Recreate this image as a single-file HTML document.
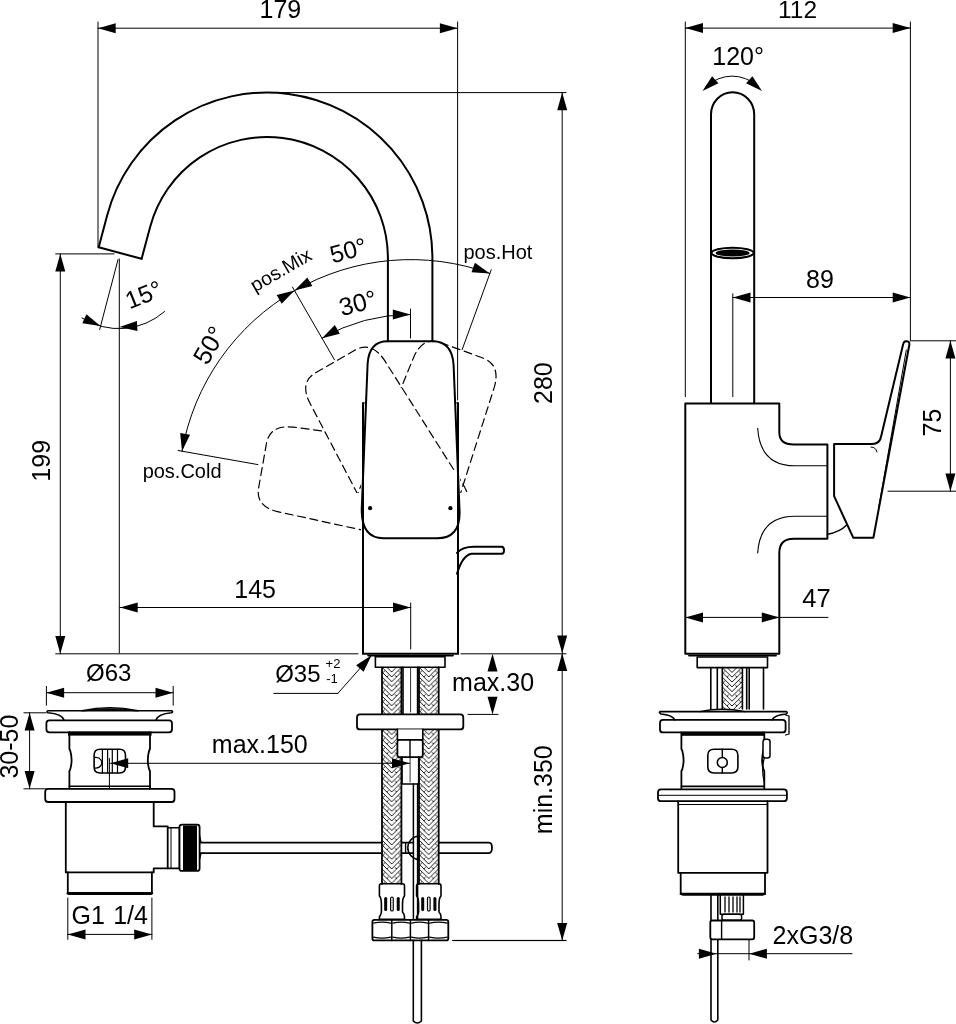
<!DOCTYPE html>
<html><head><meta charset="utf-8"><style>
html,body{margin:0;padding:0;background:#fff;}
svg{display:block;will-change:transform;}
text{font-family:"Liberation Sans",sans-serif;fill:#000;stroke:none;}
</style></head><body>
<svg width="956" height="1024" viewBox="0 0 956 1024">
<defs>
<pattern id="braid" patternUnits="userSpaceOnUse" x="0" y="0" width="19.4" height="9.6">
<path d="M0,-4.8 L9.7,4.8 L19.4,-4.8 M0,0 L9.7,9.6 L19.4,0 M0,4.8 L9.7,14.4 L19.4,4.8 M3.2,3.2 L0.8,5.6 M16.2,3.2 L18.6,5.6 M6.4,8 L4.2,10.2 M13,8 L15.2,10.2" stroke="#000" stroke-width="0.9" fill="none"/>
</pattern>
</defs>
<rect width="956" height="1024" fill="#fff"/>
<g stroke="#000" fill="none" stroke-linecap="round" stroke-linejoin="round">
<line x1="98.00" y1="22.00" x2="98.00" y2="247.00" stroke-width="1.0" />
<line x1="457.60" y1="22.00" x2="457.60" y2="400.00" stroke-width="1.0" />
<line x1="98.00" y1="28.20" x2="457.60" y2="28.20" stroke-width="1.0" />
<polygon points="98.00,28.20 115.70,23.20 115.70,33.20" fill="#000" stroke="none"/>
<polygon points="457.60,28.20 439.90,33.20 439.90,23.20" fill="#000" stroke="none"/>
<line x1="272.00" y1="92.60" x2="566.00" y2="92.60" stroke-width="1.0" />
<path d="M98.7,247.3 L107.2,215.2 A165.4,165.4 0 0 1 432.4,258 L432.4,341.3" stroke-width="2.0" />
<path d="M141.6,258.8 L150.2,226.7 A120.9,120.9 0 0 1 387.9,258 L387.9,341.3" stroke-width="2.0" />
<path d="M98.7,247.3 L141.6,258.8" stroke-width="2.0" />
<line x1="55.70" y1="253.90" x2="114.00" y2="253.90" stroke-width="1.0" />
<line x1="60.30" y1="253.90" x2="60.30" y2="653.80" stroke-width="1.0" />
<polygon points="60.30,253.90 65.30,271.60 55.30,271.60" fill="#000" stroke="none"/>
<polygon points="60.30,653.80 55.30,636.10 65.30,636.10" fill="#000" stroke="none"/>
<line x1="119.30" y1="259.00" x2="119.30" y2="653.00" stroke-width="1.0" />
<line x1="118.00" y1="259.60" x2="99.70" y2="329.50" stroke-width="1.0" />
<path d="M82,318 A69,69 0 0 0 164.5,311.6" stroke-width="1.0" />
<polygon points="100.50,326.00 82.31,323.30 86.41,314.18" fill="#000" stroke="none"/>
<polygon points="119.50,327.00 136.93,321.12 137.43,331.11" fill="#000" stroke="none"/>
<line x1="55.70" y1="653.80" x2="358.00" y2="653.80" stroke-width="1.0" />
<line x1="461.00" y1="653.80" x2="566.00" y2="653.80" stroke-width="1.0" />
<line x1="562.20" y1="92.60" x2="562.20" y2="940.60" stroke-width="1.0" />
<polygon points="562.20,92.60 567.20,110.30 557.20,110.30" fill="#000" stroke="none"/>
<polygon points="562.20,653.20 557.20,635.50 567.20,635.50" fill="#000" stroke="none"/>
<polygon points="562.20,653.20 567.20,670.90 557.20,670.90" fill="#000" stroke="none"/>
<polygon points="562.20,940.60 557.20,922.90 567.20,922.90" fill="#000" stroke="none"/>
<line x1="453.00" y1="940.60" x2="566.00" y2="940.60" stroke-width="1.0" />
<line x1="120.00" y1="607.50" x2="410.70" y2="607.50" stroke-width="1.0" />
<polygon points="120.00,607.50 137.70,602.50 137.70,612.50" fill="#000" stroke="none"/>
<polygon points="410.70,607.50 393.00,612.50 393.00,602.50" fill="#000" stroke="none"/>
<line x1="410.70" y1="603.00" x2="410.70" y2="649.00" stroke-width="1.0" />
<path d="M387.7,341.3 L432.8,341.3 Q452,341.3 453.6,365 L459.6,512 Q460,538.3 437,538.3 L383.5,538.3 Q361.7,538.3 361.7,510 L367.6,364 Q369,341.3 387.7,341.3 Z" stroke-width="2.0" />
<circle cx="370.1" cy="508.2" r="2.1" fill="#000" stroke="none"/>
<circle cx="450.4" cy="508.2" r="2.1" fill="#000" stroke="none"/>
<path d="M363,403 L363,653.8 L458,653.8 L458,403" stroke-width="2.0" stroke-linejoin="miter"/>
<line x1="368.00" y1="655.60" x2="453.00" y2="655.60" stroke-width="1.6" />
<path d="M363.2,403 L365.7,403" stroke-width="1.2" />
<path d="M454.8,403 L458,403" stroke-width="1.2" />
<path d="M457,552.9 Q462,546.7 473.8,546.7 L501.5,546.7 Q504,546.7 504,550.2 Q504,553.7 501.5,553.7 L471.3,553.7 Q462,556 457,573.8" stroke-width="2.0" />
<mask id="mCold" maskUnits="userSpaceOnUse" x="0" y="0" width="956" height="1024"><rect width="956" height="1024" fill="#fff" stroke="none"/><path d="M387.7,341.3 L432.8,341.3 Q452,341.3 453.6,365 L459.6,512 Q460,538.3 437,538.3 L383.5,538.3 Q361.7,538.3 361.7,510 L367.6,364 Q369,341.3 387.7,341.3 Z" fill="#000" stroke="none" transform="rotate(0 410.5 491.5)"/><path d="M387.7,341.3 L432.8,341.3 Q452,341.3 453.6,365 L459.6,512 Q460,538.3 437,538.3 L383.5,538.3 Q361.7,538.3 361.7,510 L367.6,364 Q369,341.3 387.7,341.3 Z" fill="#000" stroke="none" transform="rotate(-30 410.5 491.5)"/><rect x="361" y="403" width="200" height="260" fill="#000" stroke="none"/></mask>
<mask id="mOut" maskUnits="userSpaceOnUse" x="0" y="0" width="956" height="1024"><rect width="956" height="1024" fill="#fff" stroke="none"/><path d="M387.7,341.3 L432.8,341.3 Q452,341.3 453.6,365 L459.6,512 Q460,538.3 437,538.3 L383.5,538.3 Q361.7,538.3 361.7,510 L367.6,364 Q369,341.3 387.7,341.3 Z" fill="#000" stroke="none" transform="rotate(0 410.5 491.5)"/><rect x="361" y="403" width="99" height="260" fill="#000" stroke="none"/><rect x="330" y="493" width="160" height="100" fill="#000" stroke="none"/></mask>
<mask id="mMixIn" maskUnits="userSpaceOnUse" x="0" y="0" width="956" height="1024"><rect width="956" height="1024" fill="#000" stroke="none"/><path d="M387.7,341.3 L432.8,341.3 Q452,341.3 453.6,365 L459.6,512 Q460,538.3 437,538.3 L383.5,538.3 Q361.7,538.3 361.7,510 L367.6,364 Q369,341.3 387.7,341.3 Z" fill="#fff" stroke="none" transform="rotate(0 410.5 491.5)"/><rect x="0" y="470" width="956" height="600" fill="#000" stroke="none"/></mask>
<mask id="mHotIn" maskUnits="userSpaceOnUse" x="0" y="0" width="956" height="1024"><rect width="956" height="1024" fill="#000" stroke="none"/><path d="M387.7,341.3 L432.8,341.3 Q452,341.3 453.6,365 L459.6,512 Q460,538.3 437,538.3 L383.5,538.3 Q361.7,538.3 361.7,510 L367.6,364 Q369,341.3 387.7,341.3 Z" fill="#fff" stroke="none" transform="rotate(0 410.5 491.5)"/><rect x="0" y="388" width="956" height="600" fill="#000" stroke="none"/></mask>
<g stroke-dasharray="8 4.6">
<g mask="url(#mCold)">
<path d="M387.7,341.3 L432.8,341.3 Q452,341.3 453.6,365 L459.6,512 Q460,538.3 437,538.3 L383.5,538.3 Q361.7,538.3 361.7,510 L367.6,364 Q369,341.3 387.7,341.3 Z" stroke-width="1.2" transform="rotate(-80 410.5 491.5)"/>
</g>
<g mask="url(#mOut)">
<path d="M387.7,341.3 L432.8,341.3 Q452,341.3 453.6,365 L459.6,512 Q460,538.3 437,538.3 L383.5,538.3 Q361.7,538.3 361.7,510 L367.6,364 Q369,341.3 387.7,341.3 Z" stroke-width="1.2" transform="rotate(-30 410.5 491.5)"/>
</g>
<g mask="url(#mOut)">
<path d="M387.7,341.3 L432.8,341.3 Q452,341.3 453.6,365 L459.6,512 Q460,538.3 437,538.3 L383.5,538.3 Q361.7,538.3 361.7,510 L367.6,364 Q369,341.3 387.7,341.3 Z" stroke-width="1.2" transform="rotate(20 410.5 491.5)"/>
</g>
<g mask="url(#mMixIn)">
<path d="M387.7,341.3 L432.8,341.3 Q452,341.3 453.6,365 L459.6,512 Q460,538.3 437,538.3 L383.5,538.3 Q361.7,538.3 361.7,510 L367.6,364 Q369,341.3 387.7,341.3 Z" stroke-width="1.2" transform="rotate(-30 410.5 491.5)"/>
</g>
<g mask="url(#mHotIn)">
<path d="M387.7,341.3 L432.8,341.3 Q452,341.3 453.6,365 L459.6,512 Q460,538.3 437,538.3 L383.5,538.3 Q361.7,538.3 361.7,510 L367.6,364 Q369,341.3 387.7,341.3 Z" stroke-width="1.2" transform="rotate(20 410.5 491.5)"/>
</g>
</g>
<path d="M182.02,451.21 A232,232 0 0 1 489.85,273.49" stroke-width="1.0" />
<polygon points="182.02,451.21 180.17,432.91 190.02,434.65" fill="#000" stroke="none"/>
<line x1="292.50" y1="287.12" x2="334.50" y2="359.86" stroke-width="1.0" />
<line x1="491.22" y1="269.73" x2="462.15" y2="349.61" stroke-width="1.0" />
<line x1="178.09" y1="450.52" x2="257.85" y2="464.58" stroke-width="1.0" />
<polygon points="294.50,290.58 281.67,303.76 276.67,295.10" fill="#000" stroke="none"/>
<polygon points="294.50,290.58 307.33,277.40 312.33,286.06" fill="#000" stroke="none"/>
<polygon points="489.85,273.49 471.51,272.14 474.93,262.74" fill="#000" stroke="none"/>
<path d="M322.00,338.21 A177,177 0 0 1 410.50,314.50" stroke-width="1.0" />
<polygon points="322.00,338.21 334.83,325.03 339.83,333.69" fill="#000" stroke="none"/>
<polygon points="410.50,314.50 392.80,319.50 392.80,309.50" fill="#000" stroke="none"/>
<line x1="410.50" y1="309.00" x2="410.50" y2="338.00" stroke-width="1.0" />
<path d="M375.4,656.6 L445,656.6 L445,667.3 L375.4,667.3 Z" stroke-width="1.6" />
<g transform="translate(382,667.3)"><rect x="0" y="0" width="19.40" height="216.70" fill="url(#braid)" stroke="none"/></g>
<line x1="382.00" y1="667.30" x2="382.00" y2="884.00" stroke-width="1.8" />
<line x1="401.40" y1="667.30" x2="401.40" y2="884.00" stroke-width="1.8" />
<g transform="translate(419,667.3)"><rect x="0" y="0" width="19.70" height="216.70" fill="url(#braid)" stroke="none"/></g>
<line x1="419.00" y1="667.30" x2="419.00" y2="884.00" stroke-width="1.8" />
<line x1="438.70" y1="667.30" x2="438.70" y2="884.00" stroke-width="1.8" />
<line x1="403.00" y1="667.30" x2="403.00" y2="714.40" stroke-width="1.6" />
<line x1="417.60" y1="667.30" x2="417.60" y2="714.40" stroke-width="1.6" />
<line x1="410.60" y1="668.00" x2="410.60" y2="712.00" stroke-width="0.8" />
<path d="M360,714.4 L460.3,714.4 Q463.3,714.4 463.3,717.4 L463.3,726.4 Q463.3,729.4 460.3,729.4 L360,729.4 Q357,729.4 357,726.4 L357,717.4 Q357,714.4 360,714.4 Z" stroke-width="1.8" fill="#fff"/>
<path d="M397.4,729.4 L397.4,739.8 L422.8,739.8 L422.8,729.4" stroke-width="1.6" fill="#fff"/>
<path d="M399.4,739.8 L420.8,739.8 Q422.8,739.8 422.8,742 L422.8,755 Q422.8,757.1 420.8,757.1 L399.4,757.1 Q397.4,757.1 397.4,755 L397.4,742 Q397.4,739.8 399.4,739.8 Z" stroke-width="1.8" fill="#fff"/>
<line x1="410.00" y1="739.80" x2="410.00" y2="757.10" stroke-width="1.4" />
<path d="M402,757.1 L402,784 L418.7,784 L418.7,757.1" stroke-width="1.6" />
<line x1="410.10" y1="757.00" x2="410.10" y2="782.00" stroke-width="0.8" />
<line x1="413.40" y1="784.00" x2="413.40" y2="919.00" stroke-width="1.5" />
<line x1="417.60" y1="784.00" x2="417.60" y2="919.00" stroke-width="1.5" />
<path d="M200.8,842.6 L381,842.6 M200.8,853.1 L381,853.1" stroke-width="1.8" />
<path d="M401.4,842.6 L413.4,842.6 M401.4,853.1 L413.4,853.1" stroke-width="1.6" />
<path d="M438.7,842.6 L489,842.6 Q492,842.6 492,847.85 Q492,853.1 489,853.1 L438.7,853.1" stroke-width="1.8" />
<path d="M418.7,836 A12,11.8 0 0 0 418.7,859.5 Z" stroke-width="1.6" />
<line x1="405.60" y1="842.60" x2="405.60" y2="853.10" stroke-width="1.4" />
<path d="M381.4,883.8 L402.5,883.8 Q404.5,883.8 404.5,886 L404.5,896 Q402.5,898 402.5,904 L402.5,912 Q404.5,914 404.5,917 L404.5,919.2 L379.4,919.2 L379.4,917 Q381.4,914 381.4,912 L381.4,904 Q381.4,898 379.4,896 L379.4,886 Q379.4,883.8 381.4,883.8 Z" stroke-width="1.6" />
<rect x="384.17" y="897" width="3" height="14" rx="1.5" fill="#000" stroke="none"/>
<rect x="390.65" y="897" width="2.6" height="14" rx="1.3" fill="none" stroke-width="1.2"/>
<rect x="396.73" y="897" width="3" height="14" rx="1.5" fill="#000" stroke="none"/>
<path d="M418.6,883.8 L439,883.8 Q441,883.8 441,886 L441,896 Q439,898 439,904 L439,912 Q441,914 441,917 L441,919.2 L416.6,919.2 L416.6,917 Q418.6,914 418.6,912 L418.6,904 Q418.6,898 416.6,896 L416.6,886 Q416.6,883.8 418.6,883.8 Z" stroke-width="1.6" />
<rect x="421.20" y="897" width="3" height="14" rx="1.5" fill="#000" stroke="none"/>
<rect x="427.50" y="897" width="2.6" height="14" rx="1.3" fill="none" stroke-width="1.2"/>
<rect x="433.40" y="897" width="3" height="14" rx="1.5" fill="#000" stroke="none"/>
<path d="M374.4,919.9 L446.3,919.9 Q448.3,919.9 448.3,922 L448.3,938.4 Q448.3,940.4 446.3,940.4 L374.4,940.4 Q372.4,940.4 372.4,938.4 L372.4,922 Q372.4,919.9 374.4,919.9 Z" stroke-width="1.8" />
<line x1="391.80" y1="919.90" x2="391.80" y2="940.40" stroke-width="1.5" />
<line x1="410.40" y1="919.90" x2="410.40" y2="940.40" stroke-width="1.5" />
<line x1="428.60" y1="919.90" x2="428.60" y2="940.40" stroke-width="1.5" />
<path d="M373.4,923.2 Q382.1,921.2 390.8,923.2 M373.4,937.2 Q382.1,939.2 390.8,937.2" stroke-width="1.2" />
<path d="M392.8,923.2 Q401.1,921.2 409.4,923.2 M392.8,937.2 Q401.1,939.2 409.4,937.2" stroke-width="1.2" />
<path d="M411.4,923.2 Q419.5,921.2 427.6,923.2 M411.4,937.2 Q419.5,939.2 427.6,937.2" stroke-width="1.2" />
<path d="M429.6,923.2 Q438.45000000000005,921.2 447.3,923.2 M429.6,937.2 Q438.45000000000005,939.2 447.3,937.2" stroke-width="1.2" />
<path d="M413.3,940.4 L413.3,1021 Q417.3,1025 421.4,1021 L421.4,940.4" stroke-width="1.6" />
<line x1="452.60" y1="940.40" x2="566.00" y2="940.40" stroke-width="1.0" />
<line x1="273.80" y1="693.40" x2="337.80" y2="693.40" stroke-width="1.0" />
<line x1="337.80" y1="693.40" x2="371.60" y2="655.30" stroke-width="1.0" />
<polygon points="371.60,655.30 363.59,671.86 356.11,665.22" fill="#000" stroke="none"/>
<polygon points="492.50,653.80 497.50,671.50 487.50,671.50" fill="#000" stroke="none"/>
<polygon points="492.50,714.40 487.50,696.70 497.50,696.70" fill="#000" stroke="none"/>
<line x1="468.00" y1="714.40" x2="498.00" y2="714.40" stroke-width="1.0" />
<line x1="110.50" y1="763.30" x2="409.70" y2="763.30" stroke-width="1.0" />
<polygon points="110.50,763.30 128.20,758.30 128.20,768.30" fill="#000" stroke="none"/>
<polygon points="409.70,763.30 392.00,768.30 392.00,758.30" fill="#000" stroke="none"/>
<line x1="46.40" y1="686.40" x2="46.40" y2="705.20" stroke-width="1.0" />
<line x1="173.20" y1="686.40" x2="173.20" y2="705.20" stroke-width="1.0" />
<line x1="46.40" y1="692.70" x2="173.20" y2="692.70" stroke-width="1.0" />
<polygon points="46.40,692.70 64.10,687.70 64.10,697.70" fill="#000" stroke="none"/>
<polygon points="173.20,692.70 155.50,697.70 155.50,687.70" fill="#000" stroke="none"/>
<path d="M48,710.8 L171.6,710.8 Q173.6,711.8 171.6,712.8 Q158,714 156,720 M48,710.8 Q46,711.8 48,712.8 Q62,714 64,720" stroke-width="1.6" />
<path d="M82,710.8 Q110,704.5 138,710.8 Q110,708.5 82,710.8 Z" stroke-width="1.4" fill="#444"/>
<path d="M49.4,720.3 L169,720.3 Q172,720.3 172,723.3 L172,729.3 Q172,732.3 169,732.3 L49.4,732.3 Q46.4,732.3 46.4,729.3 L46.4,723.3 Q46.4,720.3 49.4,720.3 Z" stroke-width="1.8" />
<path d="M69.4,732.3 L69.4,749 L70.2,750.5 Q73,760 70.2,769.5 L69.4,771 L69.4,788.5 M150,732.3 L150,749 L149.2,750.5 Q146.4,760 149.2,769.5 L150,771 L150,788.5" stroke-width="1.8" />
<rect x="68" y="731.6" width="83.6" height="4" fill="#000" stroke="none"/>
<line x1="69.40" y1="786.20" x2="150.00" y2="786.20" stroke-width="1.6" />
<path d="M100,749.2 L119.5,749.2 Q125.5,749.2 125.5,755.2 L125.5,767 Q125.5,773 119.5,773 L100,773 Q94.1,773 94.1,767 L94.1,755.2 Q94.1,749.2 100,749.2 Z" stroke-width="1.6" />
<line x1="102.40" y1="749.50" x2="102.40" y2="772.80" stroke-width="1.2" />
<line x1="107.60" y1="749.50" x2="107.60" y2="772.80" stroke-width="1.2" />
<line x1="112.30" y1="749.50" x2="112.30" y2="772.80" stroke-width="1.2" />
<line x1="117.50" y1="749.50" x2="117.50" y2="772.80" stroke-width="1.2" />
<path d="M94.8,757.5 Q99,757 101,760 Q102.4,762.7 101,765.4 Q99,768.5 94.8,768" stroke-width="1.3" />
<line x1="109.40" y1="758.50" x2="109.40" y2="788.00" stroke-width="1.0" />
<line x1="23.90" y1="712.80" x2="46.00" y2="712.80" stroke-width="1.0" />
<line x1="23.90" y1="788.80" x2="46.00" y2="788.80" stroke-width="1.0" />
<line x1="29.60" y1="712.80" x2="29.60" y2="788.80" stroke-width="1.0" />
<polygon points="29.60,712.80 34.60,730.50 24.60,730.50" fill="#000" stroke="none"/>
<polygon points="29.60,788.80 24.60,771.10 34.60,771.10" fill="#000" stroke="none"/>
<path d="M48.2,788.8 L171.5,788.8 Q174.5,788.8 174.5,791.8 L174.5,799 Q174.5,802 171.5,802 L48.2,802 Q45.2,802 45.2,799 L45.2,791.8 Q45.2,788.8 48.2,788.8 Z" stroke-width="1.8" />
<path d="M65.8,802 L65.8,872.4 L153.7,872.4 L153.7,868.4 L167.7,868.4 L167.7,826.4 L153.7,826.4 L153.7,802" stroke-width="1.8" />
<path d="M67.8,872.4 L67.8,892 Q67.8,894.2 70,894.2 L149.7,894.2 Q151.9,894.2 151.9,892 L151.9,872.4" stroke-width="1.8" />
<line x1="67.80" y1="893.20" x2="151.90" y2="893.20" stroke-width="2.4" />
<path d="M167.7,827.7 L179.5,827.7 L179.5,868.4 L167.7,868.4" stroke-width="1.6" />
<line x1="171.00" y1="827.70" x2="171.00" y2="868.40" stroke-width="1.0" />
<rect x="179.5" y="824.7" width="20.1" height="46.2" rx="2.5" fill="#fff" stroke-width="1.8"/>
<rect x="183" y="825.5" width="14" height="44.6" fill="#000" stroke="none"/>
<path d="M199.6,836 L201,842.6 M199.6,859 L201,853.1" stroke-width="1.4" />
<line x1="67.80" y1="898.00" x2="67.80" y2="939.40" stroke-width="1.0" />
<line x1="151.90" y1="898.00" x2="151.90" y2="939.40" stroke-width="1.0" />
<line x1="67.80" y1="934.40" x2="151.90" y2="934.40" stroke-width="1.0" />
<polygon points="67.80,934.40 85.50,929.40 85.50,939.40" fill="#000" stroke="none"/>
<polygon points="151.90,934.40 134.20,939.40 134.20,929.40" fill="#000" stroke="none"/>
<line x1="685.30" y1="22.00" x2="685.30" y2="396.70" stroke-width="1.0" />
<line x1="910.40" y1="22.00" x2="910.40" y2="341.00" stroke-width="1.0" />
<line x1="685.30" y1="28.10" x2="910.40" y2="28.10" stroke-width="1.0" />
<polygon points="685.30,28.10 703.00,23.10 703.00,33.10" fill="#000" stroke="none"/>
<polygon points="910.40,28.10 892.70,33.10 892.70,23.10" fill="#000" stroke="none"/>
<path d="M706,86 Q732,66 758.5,86" stroke-width="1.0" />
<polygon points="702.50,91.00 712.09,76.17 718.43,83.37" fill="#000" stroke="none"/>
<polygon points="762.00,91.00 746.07,83.37 752.41,76.17" fill="#000" stroke="none"/>
<path d="M711,403 L711,114.4 A21.6,22.2 0 0 1 754.2,114.4 L754.2,403" stroke-width="2.0" />
<ellipse cx="732.6" cy="253" rx="21" ry="5.2" fill="none" stroke-width="2"/>
<ellipse cx="732.6" cy="253" rx="17" ry="3.6" fill="#000" stroke="none"/>
<line x1="732.80" y1="293.80" x2="732.80" y2="396.70" stroke-width="1.0" />
<line x1="732.80" y1="297.50" x2="910.40" y2="297.50" stroke-width="1.0" />
<polygon points="732.80,297.50 750.50,292.50 750.50,302.50" fill="#000" stroke="none"/>
<polygon points="910.40,297.50 892.70,302.50 892.70,292.50" fill="#000" stroke="none"/>
<path d="M685.3,653.8 L685.3,403.5 L779.3,403.5 L779.3,432.2 Q779.3,444.5 793.7,444.5 L827.4,444.5 L827.4,538.8 L793.7,538.8 Q779.3,538.8 779.3,553 L779.3,653.8 Z" stroke-width="2.0" />
<path d="M757.7,428.3 Q760,465.8 795,465.8 L827.4,465.8" stroke-width="1.1" />
<path d="M827.4,516.3 L795,516.3 Q760,516.3 757.7,553" stroke-width="1.1" />
<path d="M827.4,534.3 Q840,532 846.4,525.3" stroke-width="1.4" />
<path d="M834.1,444 L834.1,496.1 L853.2,537.7 L873.4,537.7 L909.3,345 Q910,341 906,341.2 Q903.7,341.5 903.2,344 L881.2,436 Q880,444 872,444 Z" stroke-width="2.0" />
<line x1="906.30" y1="350.00" x2="878.60" y2="508.00" stroke-width="1.0" />
<path d="M871,447 Q876,447 877,452" stroke-width="1.0" />
<line x1="911.50" y1="340.80" x2="956.00" y2="340.80" stroke-width="1.0" />
<line x1="888.00" y1="491.20" x2="956.00" y2="491.20" stroke-width="1.0" />
<line x1="950.40" y1="340.80" x2="950.40" y2="491.20" stroke-width="1.0" />
<polygon points="950.40,340.80 955.40,358.50 945.40,358.50" fill="#000" stroke="none"/>
<polygon points="950.40,491.20 945.40,473.50 955.40,473.50" fill="#000" stroke="none"/>
<line x1="685.30" y1="617.40" x2="828.00" y2="617.40" stroke-width="1.0" />
<polygon points="685.30,617.40 703.00,612.40 703.00,622.40" fill="#000" stroke="none"/>
<polygon points="779.50,617.40 761.80,622.40 761.80,612.40" fill="#000" stroke="none"/>
<path d="M697.2,657 L767.5,657 L767.5,667.6 L697.2,667.6 Z" stroke-width="1.6" />
<line x1="689.00" y1="655.60" x2="776.00" y2="655.60" stroke-width="1.8" />
<line x1="710.80" y1="667.60" x2="710.80" y2="709.00" stroke-width="1.6" />
<line x1="717.30" y1="667.60" x2="717.30" y2="709.00" stroke-width="1.6" />
<line x1="746.70" y1="667.60" x2="746.70" y2="709.00" stroke-width="1.6" />
<line x1="749.20" y1="667.60" x2="749.20" y2="709.00" stroke-width="1.6" />
<line x1="763.50" y1="667.60" x2="763.50" y2="709.00" stroke-width="1.6" />
<g transform="translate(722.3,667.6)"><rect x="0" y="0" width="20.1" height="41.4" fill="url(#braid)" stroke="none"/></g>
<line x1="722.30" y1="667.60" x2="722.30" y2="709.00" stroke-width="1.6" />
<line x1="742.40" y1="667.60" x2="742.40" y2="709.00" stroke-width="1.6" />
<path d="M660,711.6 L786.5,711.6 Q788,712.8 786,714 Q775,715 772,719.8 M660,711.6 Q658.5,712.8 661,714 Q672,715 675,719.8" stroke-width="1.6" />
<path d="M700,711.6 Q722,707 745,711.6" stroke-width="1.4" />
<path d="M663,719.8 L782.6,719.8 Q785.6,719.8 785.6,722.8 L785.6,729.4 Q785.6,732.4 782.6,732.4 L663,732.4 Q660,732.4 660,729.4 L660,722.8 Q660,719.8 663,719.8 Z" stroke-width="1.8" />
<path d="M785.6,715 L789,716 L789,734 L785.6,735" stroke-width="1.3" />
<path d="M681.4,732.4 L681.4,749 L682.2,750.5 Q685,760 682.2,769.5 L681.4,771 L681.4,788.3 M764.3,732.4 L764.3,749 L763.5,750.5 Q760.7,760 763.5,769.5 L764.3,771 L764.3,788.3" stroke-width="1.8" />
<rect x="681.4" y="731.8" width="82.9" height="4" fill="#000" stroke="none"/>
<line x1="681.40" y1="786.40" x2="764.30" y2="786.40" stroke-width="1.6" />
<path d="M714,749.2 L731.7,749.2 Q737.9,749.2 737.9,755.4 L737.9,766.8 Q737.9,773 731.7,773 L714,773 Q707.8,773 707.8,766.8 L707.8,755.4 Q707.8,749.2 714,749.2 Z" stroke-width="1.6" />
<circle cx="722.3" cy="762.5" r="5" fill="none" stroke-width="1.6"/>
<line x1="722.30" y1="749.20" x2="722.30" y2="757.50" stroke-width="1.4" />
<line x1="722.30" y1="767.50" x2="722.30" y2="773.00" stroke-width="1.4" />
<rect x="763" y="739.2" width="7" height="18.8" rx="2.5" fill="#fff" stroke-width="1.5"/>
<path d="M764.3,758 Q761,770 764.3,782" stroke-width="1.2" />
<path d="M661,789.4 L783.9,789.4 Q786.9,789.4 786.9,792.4 L786.9,798.2 Q786.9,801.2 783.9,801.2 L661,801.2 Q658,801.2 658,798.2 L658,792.4 Q658,789.4 661,789.4 Z" stroke-width="1.8" />
<line x1="658.00" y1="795.30" x2="786.90" y2="795.30" stroke-width="1.0" />
<path d="M678.2,801.2 L678.2,872.8 L767.5,872.8 L767.5,801.2" stroke-width="1.8" />
<line x1="678.20" y1="804.50" x2="767.50" y2="804.50" stroke-width="1.0" />
<path d="M680.7,872.8 L680.7,892 Q680.7,894.9 683.7,894.9 L762,894.9 Q765,894.9 765,892 L765,872.8" stroke-width="1.8" />
<line x1="680.70" y1="893.90" x2="765.00" y2="893.90" stroke-width="2.2" />
<path d="M711,894.9 L711,1020 Q714.4,1024 717.8,1020 L717.8,894.9" stroke-width="1.6" />
<rect x="720.3" y="895" width="23.1" height="19.2" fill="#fff" stroke-width="1.5"/>
<line x1="725.00" y1="897.00" x2="725.00" y2="912.00" stroke-width="1.3" />
<line x1="729.00" y1="897.00" x2="729.00" y2="912.00" stroke-width="1.3" />
<line x1="733.00" y1="897.00" x2="733.00" y2="912.00" stroke-width="1.3" />
<line x1="737.00" y1="897.00" x2="737.00" y2="912.00" stroke-width="1.3" />
<line x1="740.00" y1="897.00" x2="740.00" y2="912.00" stroke-width="1.3" />
<rect x="722" y="914.2" width="19.6" height="6" rx="2" fill="#fff" stroke-width="1.5"/>
<path d="M712.3,920.5 L752.2,920.5 Q754.2,920.5 754.2,922.5 L754.2,937.3 Q754.2,939.3 752.2,939.3 L712.3,939.3 Q710.3,939.3 710.3,937.3 L710.3,922.5 Q710.3,920.5 712.3,920.5 Z" stroke-width="1.8" fill="#fff"/>
<line x1="721.60" y1="920.50" x2="721.60" y2="939.30" stroke-width="1.4" />
<line x1="697.70" y1="953.70" x2="852.00" y2="953.70" stroke-width="1.0" />
<polygon points="716.60,953.70 698.90,958.70 698.90,948.70" fill="#000" stroke="none"/>
<polygon points="749.20,953.70 766.90,948.70 766.90,958.70" fill="#000" stroke="none"/>
<line x1="749.00" y1="940.00" x2="749.00" y2="960.00" stroke-width="1.0" />
<text x="280.40" y="17.80" font-size="25" text-anchor="middle" >179</text>
<text x="797.50" y="17.60" font-size="24.5" text-anchor="middle" >112</text>
<text x="255.10" y="597.60" font-size="25" text-anchor="middle" >145</text>
<text x="50.10" y="460.80" font-size="25" text-anchor="middle" transform="rotate(-90 50.10 460.80)" >199</text>
<text x="552.00" y="383.10" font-size="25" text-anchor="middle" transform="rotate(-90 552.00 383.10)" >280</text>
<text x="552.40" y="789.70" font-size="25" text-anchor="middle" transform="rotate(-90 552.40 789.70)" >min.350</text>
<text x="18.30" y="746.60" font-size="25" text-anchor="middle" transform="rotate(-90 18.30 746.60)" >30-50</text>
<text x="940.50" y="422.50" font-size="25" text-anchor="middle" transform="rotate(-90 940.50 422.50)" >75</text>
<text x="820.00" y="287.50" font-size="25" text-anchor="middle" >89</text>
<text x="816.40" y="607.00" font-size="25.5" text-anchor="middle" >47</text>
<text x="738.10" y="64.70" font-size="25" text-anchor="middle" >120°</text>
<text x="297.90" y="682.00" font-size="24" text-anchor="middle" >Ø35</text>
<text x="333.00" y="667.90" font-size="13" text-anchor="middle" >+2</text>
<text x="332.00" y="682.50" font-size="13" text-anchor="middle" >-1</text>
<text x="493.10" y="691.20" font-size="25" text-anchor="middle" >max.30</text>
<text x="259.80" y="753.00" font-size="25" text-anchor="middle" >max.150</text>
<text x="108.70" y="680.50" font-size="24" text-anchor="middle" >Ø63</text>
<text x="88.20" y="923.80" font-size="25" text-anchor="middle" >G1</text>
<text x="130.60" y="923.80" font-size="25" text-anchor="middle" >1/4</text>
<text x="812.90" y="944.30" font-size="25" text-anchor="middle" >2xG3/8</text>
<text x="182.10" y="477.70" font-size="20" text-anchor="middle" >pos.Cold</text>
<text x="497.90" y="258.80" font-size="20" text-anchor="middle" >pos.Hot</text>
<text x="350.40" y="258.60" font-size="24.5" text-anchor="middle" transform="rotate(-15 350.40 258.60)" >50°</text>
<text x="360.10" y="311.40" font-size="25" text-anchor="middle" transform="rotate(-15 360.10 311.40)" >30°</text>
<text x="284.20" y="275.60" font-size="19.5" text-anchor="middle" transform="rotate(-30 284.20 275.60)" >pos.Mix</text>
<text x="146.80" y="302.60" font-size="24.5" text-anchor="middle" transform="rotate(-22 146.80 302.60)" >15°</text>
<text x="216.90" y="349.50" font-size="25.5" text-anchor="middle" transform="rotate(-60 216.90 349.50)" >50°</text>
</g>
</svg>
</body></html>
